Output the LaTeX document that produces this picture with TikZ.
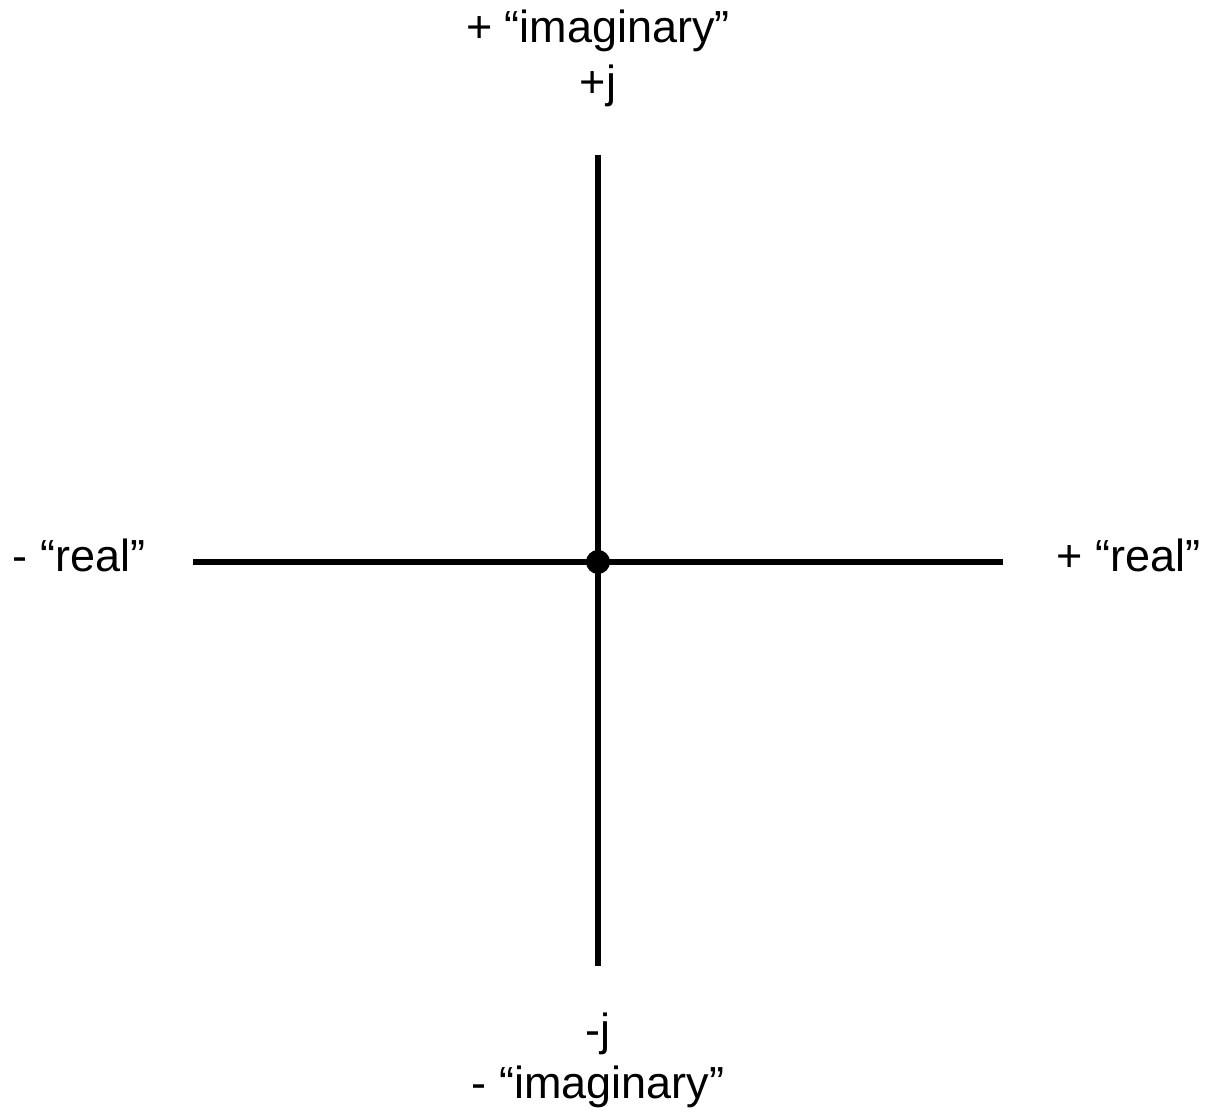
\documentclass[tikz,border=0pt]{standalone}
\usepackage{fontspec}
\setmainfont{Liberation Sans}
\usetikzlibrary{positioning}

\begin{document}
\begin{tikzpicture}[
    axis/.style={line width=1.7pt},
    lbl/.style={inner sep=0pt, anchor=base, font=\fontsize{12.8}{15}\selectfont}
  ]
    \useasboundingbox (0,0) rectangle (12.09,11.09);

    \coordinate (origin) at (5.98,5.47);
    \coordinate (top) at (5.98,9.54);
    \coordinate (bottom) at (5.98,1.43);
    \coordinate (left) at (1.93,5.47);
    \coordinate (right) at (10.03,5.47);

    \draw[axis] (left) -- (right);
    \draw[axis] (bottom) -- (top);
    \fill (origin) circle (0.12);

    \node[lbl] (imagpos) at (5.98,10.66) {+ “imaginary”};
    \node[lbl] (jpos) at (5.98,10.11) {+j};
    \node[lbl] (jneg) at (5.98,0.63) {-j};
    \node[lbl] (imagneg) at (5.98,0.10) {- “imaginary”};
    \node[lbl] (realneg) at (0.79,5.37) {- “real”};
    \node[lbl] (realpos) at (11.285,5.37) {+ “real”};
  \end{tikzpicture}
\end{document}
